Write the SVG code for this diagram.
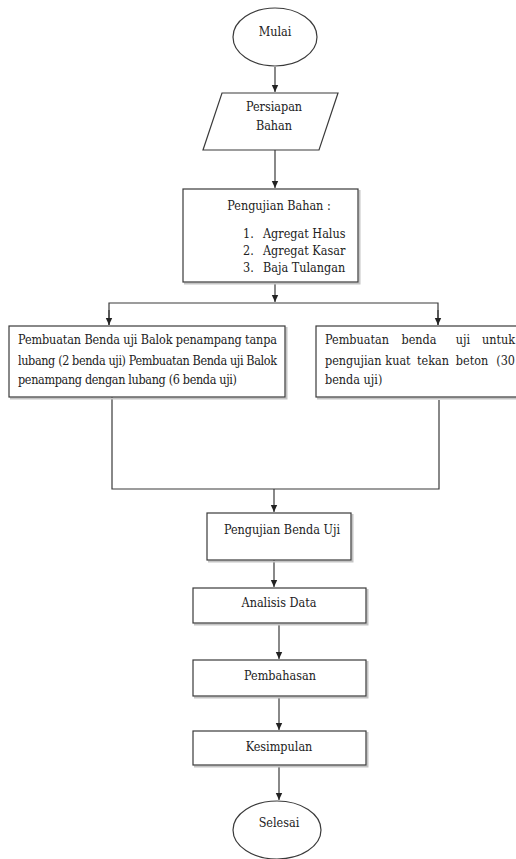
<svg xmlns="http://www.w3.org/2000/svg" width="516" height="859" viewBox="0 0 516 859">
<style>
.shape{fill:#fff;stroke:#3a3a3a;stroke-width:1.2}
.shadow{fill:none;stroke:#c4c4c4;stroke-width:2}
.t{font-family:"DejaVu Serif Condensed","Liberation Serif",serif;font-stretch:condensed;font-size:12.5px;fill:#222}
.c{text-anchor:middle}
.e{text-anchor:end}
.ln{fill:none;stroke:#3a3a3a;stroke-width:1.2}
</style>
<defs>
<marker id="ah" markerWidth="8" markerHeight="8" refX="7" refY="4" orient="auto" markerUnits="userSpaceOnUse">
<path d="M0,0.8 L7,4 L0,7.2 Z" fill="#222"/>
</marker>
</defs>
<rect width="516" height="859" fill="#fff"/>

<g id="connectors">
<line class="ln" x1="275" y1="67" x2="275" y2="92" marker-end="url(#ah)"/>
<line class="ln" x1="275" y1="150" x2="275" y2="188" marker-end="url(#ah)"/>
<line class="ln" x1="275" y1="283" x2="275" y2="302" marker-end="url(#ah)"/>
<polyline class="ln" points="109,325 109,303 438,303 438,325"/>
<line class="ln" x1="109" y1="310" x2="109" y2="325" marker-end="url(#ah)"/>
<line class="ln" x1="438" y1="310" x2="438" y2="325" marker-end="url(#ah)"/>
<polyline class="ln" points="112,397 112,489 439,489 439,400"/>
<line class="ln" x1="274" y1="489" x2="274" y2="512" marker-end="url(#ah)"/>
<line class="ln" x1="274" y1="556" x2="274" y2="587" marker-end="url(#ah)"/>
<line class="ln" x1="279" y1="624" x2="279" y2="659" marker-end="url(#ah)"/>
<line class="ln" x1="279" y1="697" x2="279" y2="730" marker-end="url(#ah)"/>
<line class="ln" x1="279" y1="766" x2="279" y2="800" marker-end="url(#ah)"/>
</g>

<g id="mulai">
<ellipse class="shape" cx="275" cy="37" rx="42" ry="29"/>
<text class="t c" x="275" y="36">Mulai</text>
</g>

<g id="persiapan">
<polygon class="shape" points="222,93 338,93 319,150 203,150"/>
<text class="t c" x="274" y="111">Persiapan</text>
<text class="t c" x="274" y="130">Bahan</text>
</g>

<g id="pengujian-bahan">
<path class="shadow" d="M184,283.5 H359.5 V190"/>
<rect class="shape" x="183" y="189" width="175" height="93"/>
<text class="t c" x="279" y="210">Pengujian Bahan :</text>
<text class="t" x="243" y="238">1.</text>
<text class="t" x="263" y="238">Agregat Halus</text>
<text class="t" x="243" y="255">2.</text>
<text class="t" x="263" y="255">Agregat Kasar</text>
<text class="t" x="243" y="272">3.</text>
<text class="t" x="263" y="272">Baja Tulangan</text>
</g>

<g id="benda-uji-balok">
<path class="shadow" d="M10,398.5 H286.5 V327"/>
<rect class="shape" x="9" y="326" width="276" height="71"/>
<text class="t" x="18" y="344" textLength="259" lengthAdjust="spacing">Pembuatan Benda uji Balok  penampang tanpa</text>
<text class="t" x="18" y="364.5" textLength="259" lengthAdjust="spacing">lubang (2 benda uji) Pembuatan Benda uji Balok</text>
<text class="t" x="18" y="384" textLength="219" lengthAdjust="spacing">penampang  dengan lubang (6 benda uji)</text>
</g>

<g id="benda-uji-tekan">
<path class="shadow" d="M317,398.5 H520"/>
<rect class="shape" x="316" y="326" width="210" height="71"/>
<text class="t" x="325" y="344">Pembuatan</text>
<text class="t c" x="419" y="344">benda</text>
<text class="t c" x="463" y="344">uji</text>
<text class="t e" x="515" y="344">untuk</text>
<text class="t" x="325" y="364.5">pengujian</text>
<text class="t c" x="398" y="364.5">kuat</text>
<text class="t c" x="433" y="364.5">tekan</text>
<text class="t c" x="472" y="364.5">beton</text>
<text class="t e" x="515" y="364.5">(30</text>
<text class="t" x="325" y="384">benda uji)</text>
</g>

<g id="pengujian-benda-uji">
<path class="shadow" d="M208,561.5 H352.5 V514"/>
<rect class="shape" x="207" y="513" width="144" height="47"/>
<text class="t c" x="282" y="534">Pengujian Benda Uji</text>
</g>

<g id="analisis-data">
<path class="shadow" d="M194,624.5 H367.5 V589"/>
<rect class="shape" x="193" y="588" width="173" height="35"/>
<text class="t c" x="279" y="607">Analisis Data</text>
</g>

<g id="pembahasan">
<path class="shadow" d="M194,697.5 H367.5 V661"/>
<rect class="shape" x="193" y="660" width="173" height="36"/>
<text class="t c" x="280" y="680">Pembahasan</text>
</g>

<g id="kesimpulan">
<path class="shadow" d="M194,766.5 H367.5 V732"/>
<rect class="shape" x="193" y="731" width="173" height="34"/>
<text class="t c" x="279" y="751">Kesimpulan</text>
</g>

<g id="selesai">
<ellipse class="shape" cx="277" cy="830" rx="44" ry="29"/>
<text class="t c" x="279" y="827">Selesai</text>
</g>
</svg>
